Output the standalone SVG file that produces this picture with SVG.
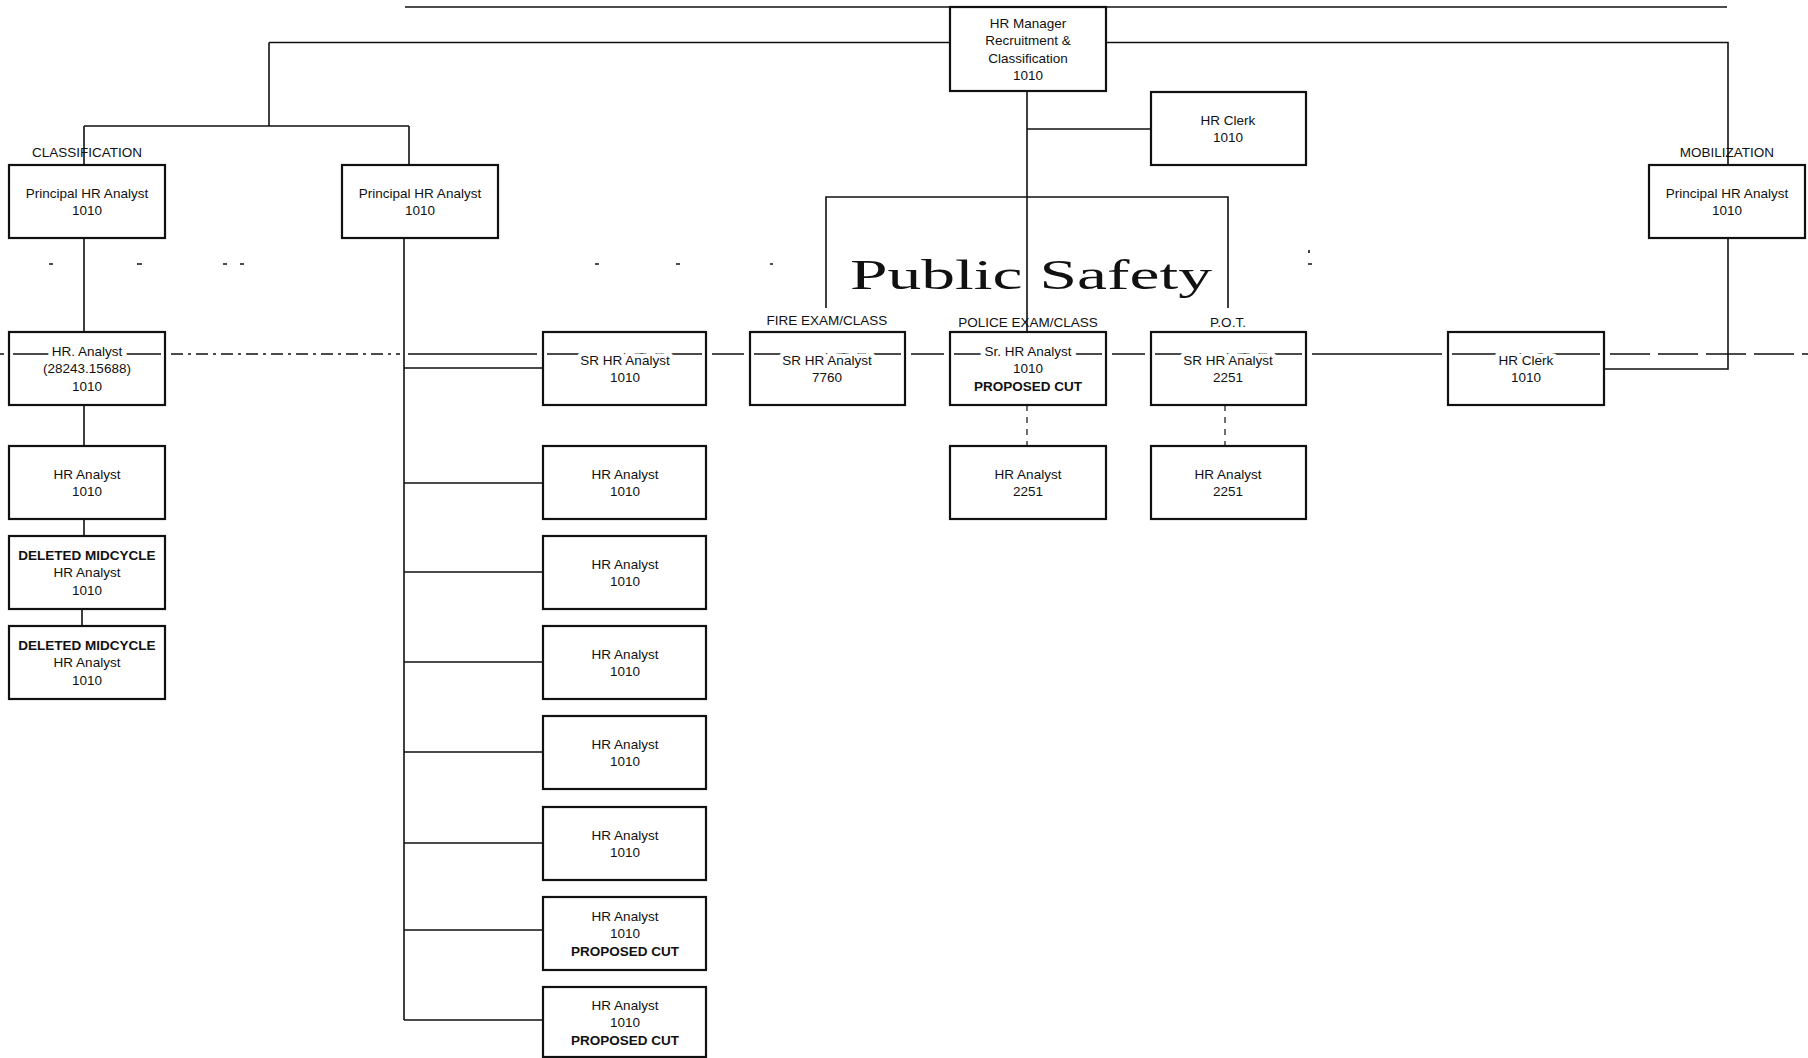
<svg xmlns="http://www.w3.org/2000/svg" width="1808" height="1058" viewBox="0 0 1808 1058">
<style>
.box{fill:none;stroke:#111;stroke-width:2.2}
.ln{fill:none;stroke:#111;stroke-width:1.6}
.dl{fill:none;stroke:#111;stroke-width:1.2;stroke-dasharray:6 6}
.t{font-family:"Liberation Sans",Arial,sans-serif;font-size:13.5px;fill:#111;text-anchor:middle}
.b{font-weight:bold}
.halo{stroke:#fff;stroke-width:9;paint-order:stroke;stroke-linejoin:round}
.lab{font-family:"Liberation Sans",Arial,sans-serif;font-size:13.5px;fill:#111;text-anchor:middle}
.ps{font-family:"Liberation Serif","Times New Roman",serif;font-size:42px;fill:#111}
</style>
<rect x="0" y="0" width="1808" height="1058" fill="#fff"/>

<g id="connectors">
  <path class="ln" d="M405 7 H1727"/>
  <path class="ln" d="M269 42.5 H950 M1106 42.5 H1728 V165"/>
  <path class="ln" d="M269 42.5 V126 M84 126 H409 M84 126 V165 M409 126 V165"/>
  <path class="ln" d="M84 238 V332 M84 405 V446 M84 519 V536 M82 609 V626"/>
  <path class="ln" d="M404 238 V1020"/>
  <path class="ln" d="M404 368 H543 M404 483 H543 M404 572 H543 M404 662 H543 M404 752 H543 M404 843 H543 M404 930 H543 M404 1020 H543"/>
  <path class="ln" d="M1027 91 V332 M1027 129 H1151"/>
  <path class="ln" d="M826 308 V197 H1228 V308"/>
  <path class="ln" d="M1728 238 V369 H1604"/>
  <path class="dl" d="M1027 405 V446 M1225 405 V446"/>
  <path class="ln" d="M0 354 H4 M408 354 H537 M712 354 H744 M911 354 H944 M1112 354 H1145 M1312 354 H1442"/>
  <path class="ln" d="M13 354 H161 M547 354 H702 M754 354 H901 M954 354 H1102 M1155 354 H1302 M1452 354 H1600"/>
  <path class="ln" stroke-dasharray="12 5 3 5" d="M171 354 H400"/>
  <path class="ln" stroke-dasharray="40 8" d="M1610 354 H1808"/>
  <path class="ln" d="M49 264 h4 M137 264 h5 M223 264 h4 M240 264 h4 M595 264 h4 M676 264 h4 M770 264 h3 M1309 250 v3 M1308 264 h4"/>
</g>

<g id="label-public-safety"><text class="ps" x="850" y="289" textLength="362" lengthAdjust="spacingAndGlyphs">Public Safety</text></g>
<g id="label-classification"><text class="lab" x="87" y="157">CLASSIFICATION</text></g>
<g id="label-mobilization"><text class="lab" x="1727" y="157">MOBILIZATION</text></g>
<g id="label-fire"><text class="lab" x="827" y="325">FIRE EXAM/CLASS</text></g>
<g id="label-police"><text class="lab" x="1028" y="327">POLICE EXAM/CLASS</text></g>
<g id="label-pot"><text class="lab" x="1228" y="327">P.O.T.</text></g>

<g id="n-manager"><rect class="box" x="950" y="7" width="156" height="84"/>
  <text class="t" x="1028" y="27.8">HR Manager</text><text class="t" x="1028" y="45.2">Recruitment &amp;</text><text class="t" x="1028" y="62.5">Classification</text><text class="t" x="1028" y="79.8">1010</text></g>
<g id="n-clerk-top"><rect class="box" x="1151" y="92" width="155" height="73"/>
  <text class="t" x="1228" y="124.7">HR Clerk</text><text class="t" x="1228" y="141.9">1010</text></g>
<g id="n-principal-class"><rect class="box" x="9" y="165" width="156" height="73"/>
  <text class="t" x="87" y="197.7">Principal HR Analyst</text><text class="t" x="87" y="214.9">1010</text></g>
<g id="n-principal-mid"><rect class="box" x="342" y="165" width="156" height="73"/>
  <text class="t" x="420" y="197.7">Principal HR Analyst</text><text class="t" x="420" y="214.9">1010</text></g>
<g id="n-principal-mob"><rect class="box" x="1649" y="165" width="156" height="73"/>
  <text class="t" x="1727" y="197.7">Principal HR Analyst</text><text class="t" x="1727" y="214.9">1010</text></g>

<g id="n-analyst-28243"><rect class="box" x="9" y="332" width="156" height="73"/>
  <text class="t halo" x="87" y="356">HR. Analyst</text><text class="t" x="87" y="373.3">(28243.15688)</text><text class="t" x="87" y="390.6">1010</text></g>
<g id="n-analyst-left"><rect class="box" x="9" y="446" width="156" height="73"/>
  <text class="t" x="87" y="478.7">HR Analyst</text><text class="t" x="87" y="495.9">1010</text></g>
<g id="n-deleted-1"><rect class="box" x="9" y="536" width="156" height="73"/>
  <text class="t b" x="87" y="560">DELETED MIDCYCLE</text><text class="t" x="87" y="577.3">HR Analyst</text><text class="t" x="87" y="594.6">1010</text></g>
<g id="n-deleted-2"><rect class="box" x="9" y="626" width="156" height="73"/>
  <text class="t b" x="87" y="650">DELETED MIDCYCLE</text><text class="t" x="87" y="667.3">HR Analyst</text><text class="t" x="87" y="684.6">1010</text></g>

<g id="n-sr-1010"><rect class="box" x="543" y="332" width="163" height="73"/>
  <text class="t halo" x="625" y="364.7">SR HR Analyst</text><text class="t" x="625" y="381.9">1010</text></g>
<g id="n-col-1"><rect class="box" x="543" y="446" width="163" height="73"/>
  <text class="t" x="625" y="478.7">HR Analyst</text><text class="t" x="625" y="495.9">1010</text></g>
<g id="n-col-2"><rect class="box" x="543" y="536" width="163" height="73"/>
  <text class="t" x="625" y="568.7">HR Analyst</text><text class="t" x="625" y="585.9">1010</text></g>
<g id="n-col-3"><rect class="box" x="543" y="626" width="163" height="73"/>
  <text class="t" x="625" y="658.7">HR Analyst</text><text class="t" x="625" y="675.9">1010</text></g>
<g id="n-col-4"><rect class="box" x="543" y="716" width="163" height="73"/>
  <text class="t" x="625" y="748.7">HR Analyst</text><text class="t" x="625" y="765.9">1010</text></g>
<g id="n-col-5"><rect class="box" x="543" y="807" width="163" height="73"/>
  <text class="t" x="625" y="839.7">HR Analyst</text><text class="t" x="625" y="856.9">1010</text></g>
<g id="n-col-6"><rect class="box" x="543" y="897" width="163" height="73"/>
  <text class="t" x="625" y="921">HR Analyst</text><text class="t" x="625" y="938.3">1010</text><text class="t b" x="625" y="955.6">PROPOSED CUT</text></g>
<g id="n-col-7"><rect class="box" x="543" y="987" width="163" height="70"/>
  <text class="t" x="625" y="1010">HR Analyst</text><text class="t" x="625" y="1027.3">1010</text><text class="t b" x="625" y="1044.6">PROPOSED CUT</text></g>

<g id="n-fire"><rect class="box" x="750" y="332" width="155" height="73"/>
  <text class="t halo" x="827" y="364.7">SR HR Analyst</text><text class="t" x="827" y="381.9">7760</text></g>
<g id="n-police"><rect class="box" x="950" y="332" width="156" height="73"/>
  <text class="t halo" x="1028" y="356">Sr. HR Analyst</text><text class="t" x="1028" y="373.3">1010</text><text class="t b" x="1028" y="390.6">PROPOSED CUT</text></g>
<g id="n-pot"><rect class="box" x="1151" y="332" width="155" height="73"/>
  <text class="t halo" x="1228" y="364.7">SR HR Analyst</text><text class="t" x="1228" y="381.9">2251</text></g>
<g id="n-clerk-row"><rect class="box" x="1448" y="332" width="156" height="73"/>
  <text class="t halo" x="1526" y="364.7">HR Clerk</text><text class="t" x="1526" y="381.9">1010</text></g>
<g id="n-police-analyst"><rect class="box" x="950" y="446" width="156" height="73"/>
  <text class="t" x="1028" y="478.7">HR Analyst</text><text class="t" x="1028" y="495.9">2251</text></g>
<g id="n-pot-analyst"><rect class="box" x="1151" y="446" width="155" height="73"/>
  <text class="t" x="1228" y="478.7">HR Analyst</text><text class="t" x="1228" y="495.9">2251</text></g>
</svg>
